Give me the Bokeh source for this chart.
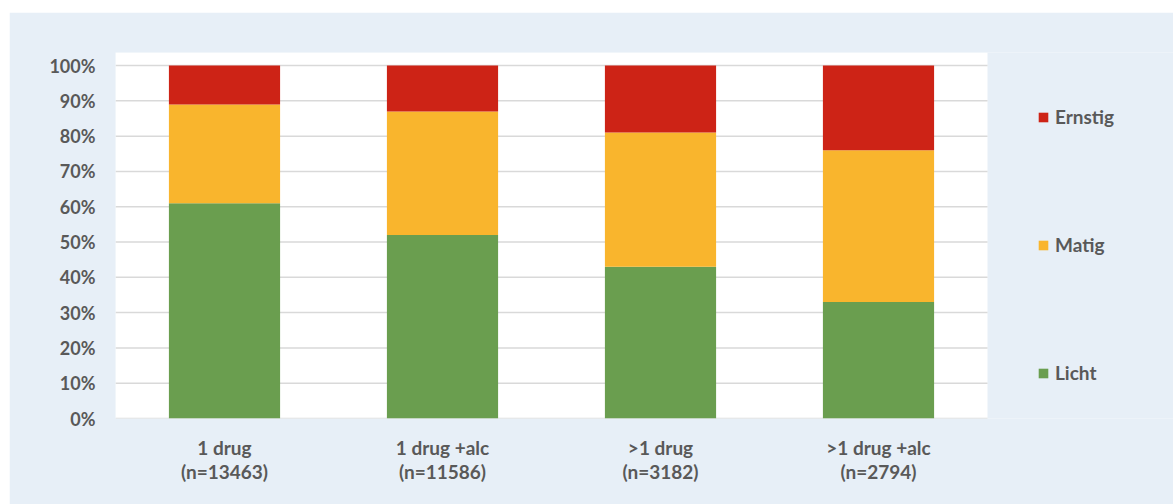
from bokeh.plotting import figure
from bokeh.models import (ColumnDataSource, Range1d, FixedTicker, Legend, LegendItem, LinearAxis)
from bokeh.embed import file_html
from bokeh.resources import INLINE

categories = ["1 drug", "1 drug +alc", ">1 drug", ">1 drug +alc"]
n_values = [13463, 11586, 3182, 2794]
licht = [61, 52, 43, 33]
matig = [28, 35, 38, 43]
ernstig = [11, 13, 19, 24]
y_ticks = [0, 10, 20, 30, 40, 50, 60, 70, 80, 90, 100]

GREEN = "#6A9E4F"
ORANGE = "#F9B52D"
RED = "#CD2316"
BG = "#E7EFF7"
TXT = "#595959"
GRID = "#D9D9D9"
FONT = "Lato"
FS = "19px"

ncat = len(categories)
xpos = [i + 0.5 for i in range(ncat)]
source = ColumnDataSource(dict(x=xpos, cat=categories, Licht=licht, Matig=matig, Ernstig=ernstig))

# layout: plot panel 872 px wide, legend strip 186 px to its right (inside the frame)
W, H = 1164, 492
LEFT = 106
frame_w = W - LEFT
x_end = ncat * frame_w / 872
y_end = 103.7

p = figure(width=W, height=H, x_range=Range1d(0, x_end),
           y_range=Range1d(0, y_end), output_backend="svg", toolbar_location=None,
           x_axis_location=None,
           min_border_left=LEFT, min_border_right=0, min_border_top=40, min_border_bottom=86)
p.margin = (12, 0, 0, 9)
p.background_fill_color = BG
p.border_fill_color = BG
p.outline_line_color = None
p.xgrid.grid_line_color = None
p.ygrid.grid_line_color = None

# white plot area and gridlines
p.quad(left=0, right=ncat, bottom=0, top=y_end, fill_color="white", line_color=None)
p.segment(x0=[0] * len(y_ticks), x1=[ncat] * len(y_ticks), y0=y_ticks, y1=y_ticks,
          line_color=GRID, line_width=1.5)

rs = p.vbar_stack(["Licht", "Matig", "Ernstig"], x="x", width=0.51,
                  color=[GREEN, ORANGE, RED], line_color=None, source=source)

p.yaxis.ticker = FixedTicker(ticks=y_ticks)
p.yaxis.major_label_overrides = {t: f"{t}%" for t in y_ticks}

name_axis = LinearAxis(ticker=FixedTicker(ticks=xpos),
                       major_label_overrides={x: c for x, c in zip(xpos, categories)})
n_axis = LinearAxis(ticker=FixedTicker(ticks=xpos),
                    major_label_overrides={x: f"(n={n})" for x, n in zip(xpos, n_values)})
p.add_layout(name_axis, "below")
p.add_layout(n_axis, "below")

for ax in (p.yaxis[0], name_axis, n_axis):
    ax.axis_line_color = None
    ax.major_tick_line_color = None
    ax.minor_tick_line_color = None
    ax.major_tick_out = 0
    ax.major_tick_in = 0
    ax.minor_tick_out = 0
    ax.minor_tick_in = 0
    ax.major_label_text_font = FONT
    ax.major_label_text_font_style = "bold"
    ax.major_label_text_font_size = FS
    ax.major_label_text_color = TXT

p.yaxis.major_label_text_font_size = "18px"
p.yaxis.major_label_standoff = 20
name_axis.major_label_standoff = 17
n_axis.major_label_standoff = -2

legend = Legend(items=[LegendItem(label="Ernstig", renderers=[rs[2]]),
                       LegendItem(label="Matig", renderers=[rs[1]]),
                       LegendItem(label="Licht", renderers=[rs[0]])],
                location=(922, 34), orientation="vertical",
                glyph_width=12, glyph_height=12, label_height=20, spacing=105,
                label_standoff=6, padding=0, margin=0,
                background_fill_alpha=0, border_line_color=None,
                label_text_font=FONT, label_text_font_style="bold",
                label_text_font_size=FS, label_text_color=TXT)
p.add_layout(legend, "center")

open("out.html", "w").write(file_html(p, INLINE))
